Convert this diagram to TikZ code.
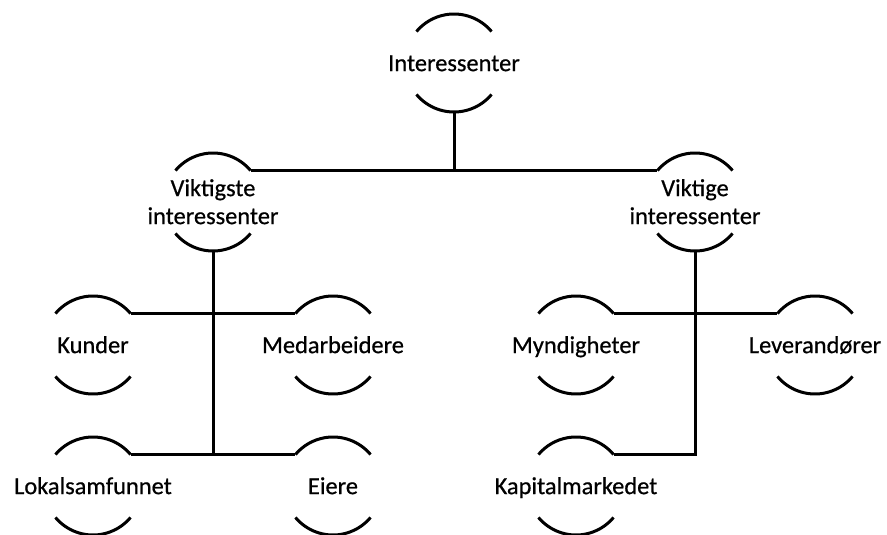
\documentclass[tikz,border=0pt]{standalone}
\usepackage{fontspec}
\setmainfont[FakeBold=0.6]{Carlito}
\begin{document}
\begin{tikzpicture}[x=1pt,y=-1pt,
  hnode/.style={circle, minimum size=98pt, inner sep=0pt, outer sep=0pt,
    label={[font=\fontsize{24.4}{28}\selectfont, align=center, inner sep=0pt, yshift=-2.5pt]center:\strut #1}},
  arcline/.style={line width=3pt},
  conn/.style={line width=3pt}]
\useasboundingbox (0,0) rectangle (887,535);
\node[hnode=Interessenter] (int) at (454,63) {};
\node[hnode={Viktigste\\interessenter\strut}] (vi) at (213,202) {};
\node[hnode={Viktige\\interessenter\strut}] (vg) at (695,202) {};
\node[hnode=Kunder] (ku) at (93,345) {};
\node[hnode=Medarbeidere] (me) at (333,345) {};
\node[hnode=Lokalsamfunnet] (lo) at (93,486) {};
\node[hnode=Eiere] (ei) at (333,486) {};
\node[hnode=Myndigheter] (my) at (576,345) {};
\node[hnode=Leverandører] (le) at (815,345) {};
\node[hnode=Kapitalmarkedet] (ka) at (576,486) {};
\foreach \n in {int,vi,vg,ku,me,lo,ei,my,le,ka}{
  \draw[arcline] (\n.40) arc[start angle=40, end angle=140, radius=49pt];
  \draw[arcline] (\n.220) arc[start angle=220, end angle=320, radius=49pt];
}
\draw[conn] (vi.40) -- (vg.140);
\draw[conn] (int.south) -- (int.south |- vi.40);
\draw[conn] (ku.40) -- (me.140);
\draw[conn] (lo.40) -- (ei.140);
\draw[conn] (vi.south) -- (vi.south |- lo.40);
\draw[conn] (my.40) -- (le.140);
\draw[conn] (vg.south) -- (vg.south |- ka.40) -- (ka.40);
\end{tikzpicture}
\end{document}
